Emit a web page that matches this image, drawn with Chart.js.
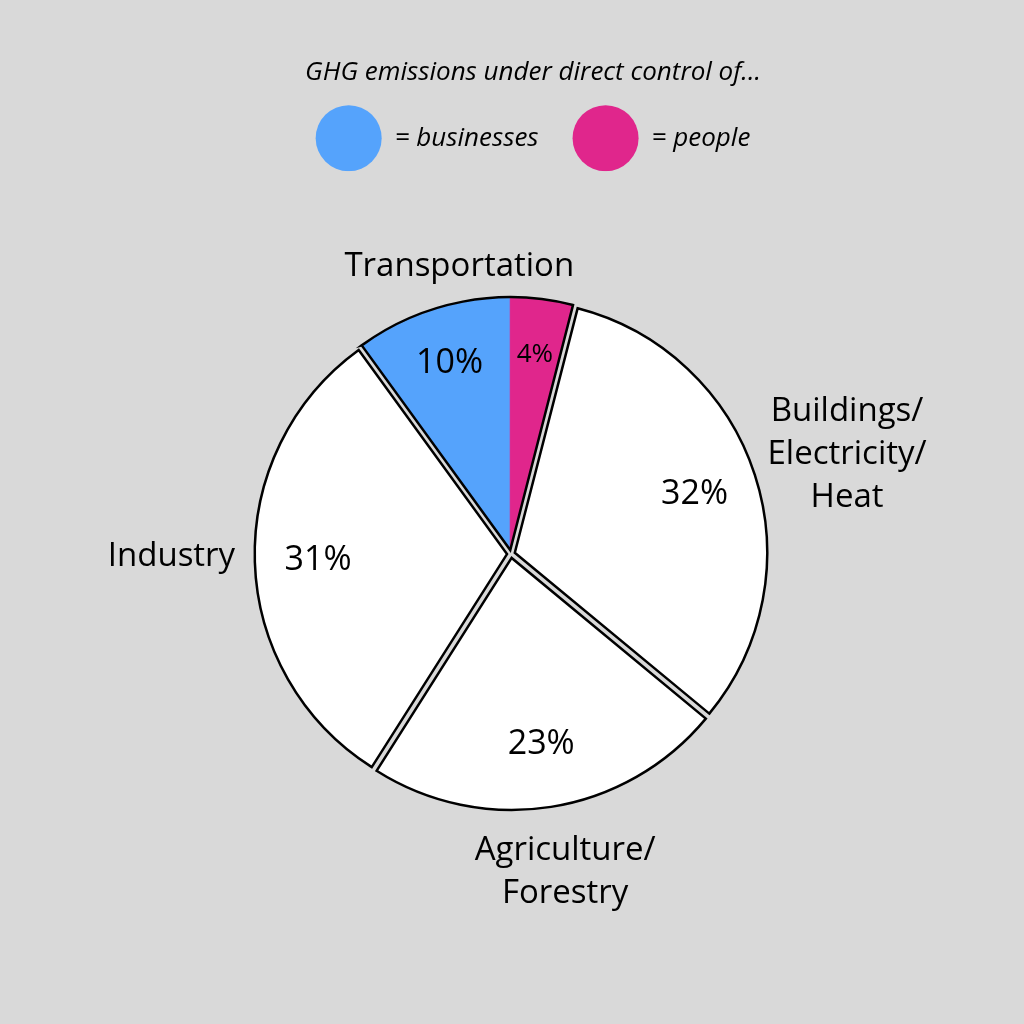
<!DOCTYPE html>
<html>
<head>
<meta charset="utf-8">
<script src="https://cdn.jsdelivr.net/npm/chart.js@4.4.0/dist/chart.umd.min.js"></script>
<style>
  html, body { margin: 0; padding: 0; background: #d9d9d9; }
  #wrap { position: relative; width: 1024px; height: 1024px; }
  #wrap canvas { position: absolute; left: 0; top: 0; }
</style>
</head>
<body>
<div id="wrap">
  <canvas id="under" width="1024" height="1024"></canvas>
  <canvas id="over" width="1024" height="1024"></canvas>
  <canvas id="head" width="1024" height="200"></canvas>
</div>
<script>
// shares of GHG emissions (%)
const sectors = ['Transportation', ['Buildings/', 'Electricity/', 'Heat'], ['Agriculture/', 'Forestry'], 'Industry'];
const transportBusinesses = 10;
const transportPeople = 4;
const sectorShares = [transportBusinesses + transportPeople, 32, 23, 31];
const controlShares = [transportBusinesses, transportPeople, 32, 23, 31];

const titleText = 'GHG emissions under direct control of...';
const legendNames = ['= businesses', '= people'];

const BLUE = '#55a3fc';
const PINK = '#e0268c';
const CLEAR = 'rgba(0,0,0,0)';
const FONT = '"Open Sans"';
const WEIGHT = 400;
const RADIUS = 252;
const OFFSET = 16; // arc offset option (chart.js moves the arc by offset / 4)

// draws the percentages inside the slices and the sector names around the pie
const sliceText = {
  id: 'sliceText',
  afterDatasetsDraw(chart, args, opts) {
    const ctx = chart.ctx;
    const ds = chart.data.datasets[0];
    const meta = chart.getDatasetMeta(0);
    ctx.save();
    ctx.fillStyle = '#000';
    ctx.textAlign = 'center';
    ctx.textBaseline = 'middle';
    meta.data.forEach((arc, i) => {
      const p = arc.getProps(['x', 'y', 'startAngle', 'endAngle', 'outerRadius']);
      const mid = (p.startAngle + p.endAngle) / 2;
      const off = (Array.isArray(ds.offset) ? ds.offset[i] : ds.offset || 0) / 4;
      const cx = p.x + Math.cos(mid) * off;
      const cy = p.y + Math.sin(mid) * off;
      if (opts.pct[i]) {
        const r = p.outerRadius * opts.pctRadius;
        ctx.font = WEIGHT + ' ' + opts.pct[i] + 'px ' + FONT;
        ctx.fillText(ds.data[i] + '%', cx + Math.cos(mid) * r, cy + Math.sin(mid) * r);
      }
      if (opts.names) {
        let lines = chart.data.labels[i];
        if (!Array.isArray(lines)) lines = [lines];
        ctx.font = WEIGHT + ' 33px ' + FONT;
        const lh = 43;
        const w = Math.max(...lines.map(l => ctx.measureText(l).width));
        const h = lines.length * lh;
        const r = p.outerRadius + 20;
        const nudge = opts.nudge[i] || [0, 0];
        const dx = Math.cos(mid), dy = Math.sin(mid);
        const ax = cx + dx * r + nudge[0];
        const ay = cy + dy * r + nudge[1];
        let bx = ax, by = ay;
        if (Math.abs(dx) > 0.5) bx = ax + Math.sign(dx) * w / 2;
        else by = ay + Math.sign(dy) * h / 2;
        lines.forEach((l, k) => ctx.fillText(l, bx, by - h / 2 + lh * (k + 0.5)));
      }
    });
    ctx.restore();
  }
};

Chart.defaults.font.family = FONT;
Chart.defaults.font.weight = WEIGHT;
Chart.defaults.color = '#000';

// top layer: the four sectors with their outlines
const over = new Chart(document.getElementById('over'), {
  type: 'pie',
  data: {
    labels: sectors,
    datasets: [{
      data: sectorShares,
      backgroundColor: [CLEAR, '#fff', '#fff', '#fff'],
      borderColor: '#000',
      borderWidth: 2.5,
      borderJoinStyle: 'miter',
      offset: OFFSET
    }]
  },
  plugins: [sliceText],
  options: {
    responsive: false,
    animation: false,
    events: [],
    radius: RADIUS,
    rotation: -transportBusinesses * 3.6,
    layout: { padding: { left: 0, right: 2, top: 84, bottom: 0 } },
    plugins: {
      legend: { display: false },
      title: { display: false },
      tooltip: { enabled: false },
      sliceText: { pct: [0, 34, 34, 34], pctRadius: 0.75, names: true,
                   nudge: [[0, 5], [-6, -14], [11, 2], [0, -6]] }
    }
  }
});

// bottom layer: businesses / people split of transportation,
// centred where the (offset) transportation outline sits
const tArc = over.getDatasetMeta(0).data[0];
const tMid = (tArc.startAngle + tArc.endAngle) / 2;
const cx = tArc.x + Math.cos(tMid) * OFFSET / 4;
const cy = tArc.y + Math.sin(tMid) * OFFSET / 4;
const padY = 2 * cy - 1024;
const padX = 2 * cx - 1024;

new Chart(document.getElementById('under'), {
  type: 'pie',
  data: {
    labels: ['businesses', 'people', 'b', 'a', 'i'],
    datasets: [{
      data: controlShares,
      backgroundColor: [BLUE, PINK, CLEAR, CLEAR, CLEAR],
      borderColor: [BLUE, PINK, CLEAR, CLEAR, CLEAR],
      borderWidth: [1, 1, 0, 0, 0]
    }]
  },
  plugins: [sliceText],
  options: {
    responsive: false,
    animation: false,
    events: [],
    radius: RADIUS,
    rotation: -transportBusinesses * 3.6,
    layout: { padding: {
      left: Math.max(padX, 0), right: Math.max(-padX, 0),
      top: Math.max(padY, 0), bottom: Math.max(-padY, 0)
    } },
    plugins: {
      legend: { display: false },
      title: { display: false },
      tooltip: { enabled: false },
      sliceText: { pct: [34, 26, 0, 0, 0], pctRadius: 0.78, names: false, nudge: [] }
    }
  }
});

// title and legend strip
new Chart(document.getElementById('head'), {
  type: 'pie',
  data: {
    labels: legendNames,
    datasets: [{
      data: [transportBusinesses, transportPeople],
      backgroundColor: [BLUE, PINK],
      borderWidth: 0
    }]
  },
  options: {
    responsive: false,
    animation: false,
    events: [],
    radius: 0,
    layout: { padding: { left: 42, right: 0, top: 0, bottom: 0 } },
    plugins: {
      tooltip: { enabled: false },
      title: {
        display: true,
        text: titleText,
        color: '#000',
        font: { size: 26, style: 'italic', weight: WEIGHT },
        padding: { top: 57, bottom: -17 }
      },
      legend: {
        display: true,
        onClick: null,
        labels: {
          boxWidth: 66,
          boxHeight: 66,
          padding: 34,
          useBorderRadius: true,
          borderRadius: 33,
          color: '#000',
          font: { size: 26, style: 'italic', weight: WEIGHT },
          generateLabels: (chart) => chart.data.labels.map((t, i) => ({
            text: t,
            fillStyle: chart.data.datasets[0].backgroundColor[i],
            strokeStyle: CLEAR,
            lineWidth: 0,
            borderRadius: 33,
            hidden: false,
            index: i
          }))
        }
      }
    }
  }
});
</script>
</body>
</html>
